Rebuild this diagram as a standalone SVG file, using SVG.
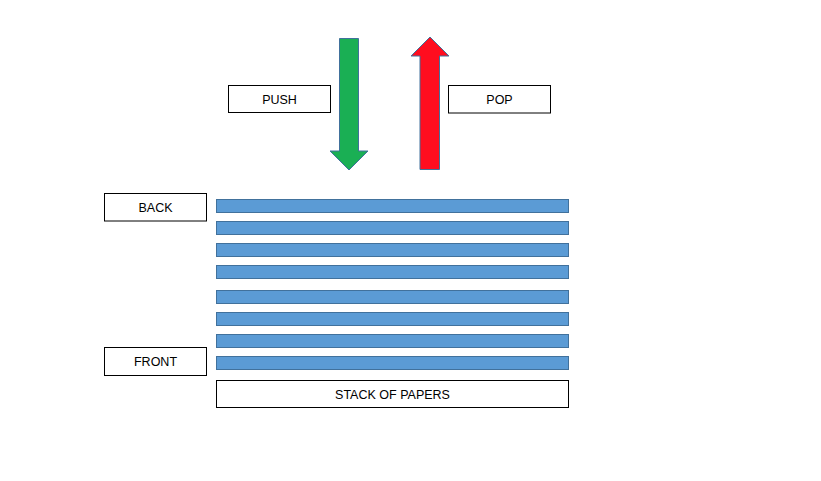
<svg xmlns="http://www.w3.org/2000/svg" width="821" height="481" viewBox="0 0 821 481">
<style>
.box{fill:#fff;stroke:#000;stroke-width:1}
.bar{fill:#5B9BD5;stroke:#41719C;stroke-width:1}
.lbl{font-family:"Liberation Sans",Arial,sans-serif;font-size:12.5px;fill:#000;text-anchor:middle}
</style>
<rect width="821" height="481" fill="#fff"/>
<g id="connectors">
<polygon id="push-arrow" points="339.5,38.5 358.5,38.5 358.5,151 368,151 349,170 330,151 339.5,151" fill="#1AAF54" stroke="#41719C" stroke-width="1"/>
<polygon id="pop-arrow" points="420,169.5 439.5,169.5 439.5,56 449,56 430,37 411,56 420,56" fill="#FF0D1F" stroke="#41719C" stroke-width="1"/>
</g>
<g id="push"><rect class="box" x="228.5" y="85.5" width="102" height="27"/><text class="lbl" x="279.5" y="103.5">PUSH</text></g>
<g id="pop"><rect class="box" x="448.5" y="85.5" width="102" height="27.5"/><text class="lbl" x="499.5" y="104">POP</text></g>
<g id="back"><rect class="box" x="104.5" y="193.5" width="102" height="27.5"/><text class="lbl" x="155.5" y="211.7">BACK</text></g>
<g id="front"><rect class="box" x="104.5" y="347.5" width="102" height="28"/><text class="lbl" x="155.5" y="366">FRONT</text></g>
<g id="papers">
<rect class="bar" x="216.5" y="199.5" width="352" height="13"/>
<rect class="bar" x="216.5" y="221.5" width="352" height="13"/>
<rect class="bar" x="216.5" y="243.5" width="352" height="13"/>
<rect class="bar" x="216.5" y="265.5" width="352" height="13"/>
<rect class="bar" x="216.5" y="290.5" width="352" height="13"/>
<rect class="bar" x="216.5" y="312.5" width="352" height="13"/>
<rect class="bar" x="216.5" y="334.5" width="352" height="13"/>
<rect class="bar" x="216.5" y="356.5" width="352" height="13"/>
</g>
<g id="stack"><rect class="box" x="216.5" y="380.5" width="352" height="27"/><text class="lbl" x="392.5" y="398.5">STACK OF PAPERS</text></g>
</svg>
